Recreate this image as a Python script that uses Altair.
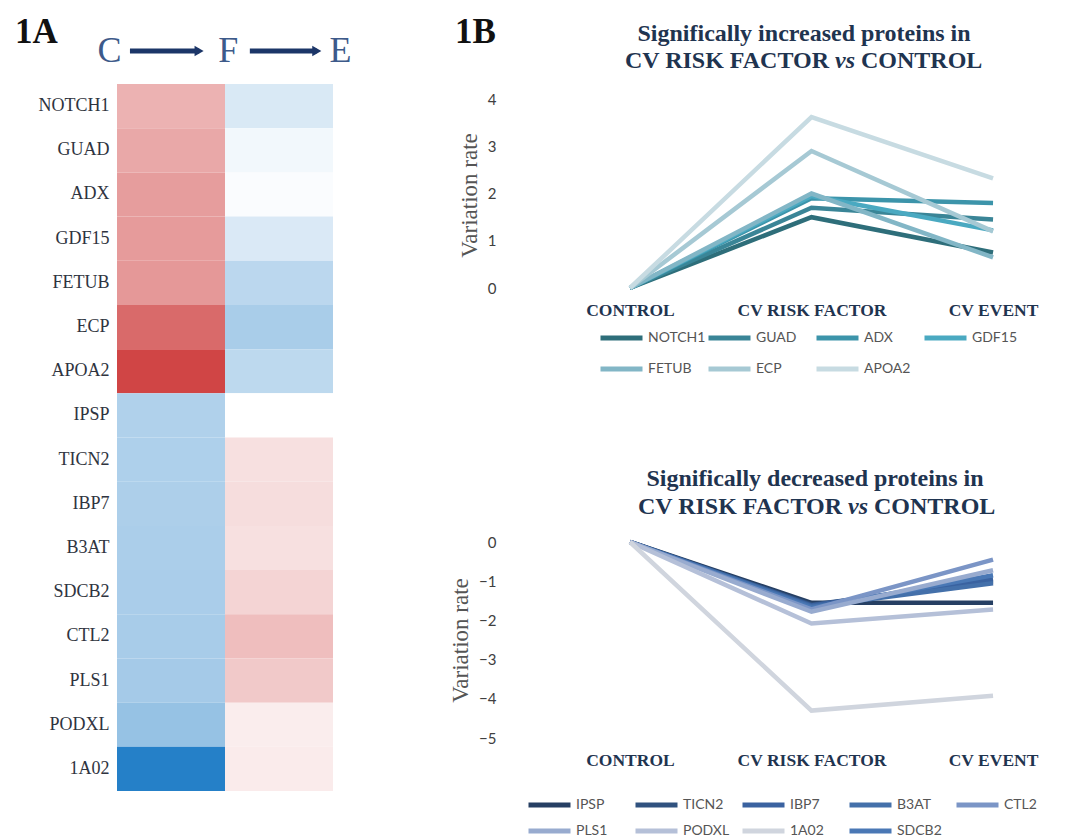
import altair as alt
import pandas as pd

# ---- data -------------------------------------------------------------
stages = ["CONTROL", "CV RISK FACTOR", "CV EVENT"]

up_proteins = ["NOTCH1", "GUAD", "ADX", "GDF15", "FETUB", "ECP", "APOA2"]
up_risk = [1.50, 1.70, 1.90, 1.95, 2.00, 2.90, 3.62]
up_event = [0.75, 1.45, 1.80, 1.22, 0.65, 1.20, 2.32]
up_colors = ["#2e6e7a", "#3a8597", "#3c94aa", "#4aa9c1", "#82b6c6", "#a6c9d4", "#c7dbe2"]

down_proteins = ["IPSP", "TICN2", "IBP7", "B3AT", "SDCB2", "CTL2", "PLS1", "PODXL", "1A02"]
down_risk = [-1.55, -1.60, -1.62, -1.65, -1.68, -1.72, -1.78, -2.08, -4.30]
down_event = [-1.55, -1.00, -0.95, -1.05, -0.85, -0.45, -0.72, -1.72, -3.92]
down_legend = ["IPSP", "TICN2", "IBP7", "B3AT", "CTL2", "PLS1", "PODXL", "1A02", "SDCB2"]
down_colors = ["#263f63", "#30527f", "#3a62a0", "#4470aa", "#7b95c6", "#98abcf", "#b5c0d8", "#d0d5de", "#4a78b5"]

# stage letters sit on the column boundaries, arrows run between them
heat_steps = ["C", "F", "E"]
letter_pos = [-0.07, 1.03, 2.07]
arrow_start = [0.12, 1.23]
arrow_end = [0.76, 1.85]

SERIF = "Liberation Serif"
SANS = "Lato"
NAVY = "#1f3450"


def long_frame(names, risk, event):
    rows = []
    for n, r, e in zip(names, risk, event):
        for s, v in zip(stages, [0.0, r, e]):
            rows.append({"protein": n, "stage": s, "value": v})
    return pd.DataFrame(rows)


# ---- 1A heatmap: change C->F and F->E --------------------------------
heat_order = up_proteins + down_proteins
heat_rows = []
for n, r, e in zip(up_proteins + down_proteins, up_risk + down_risk, up_event + down_event):
    heat_rows.append({"protein": n, "step": 0, "step_end": 1, "value": r})
    heat_rows.append({"protein": n, "step": 1, "step_end": 2, "value": round(e - r, 3)})
heat_df = pd.DataFrame(heat_rows)

xq = alt.Scale(domain=[0, 2], nice=False, zero=False)

cells = alt.Chart(heat_df).mark_rect().encode(
    x=alt.X("step:Q", scale=xq, axis=None),
    x2="step_end:Q",
    y=alt.Y(
        "protein:N",
        sort=heat_order,
        scale=alt.Scale(paddingInner=0, paddingOuter=0),
        axis=alt.Axis(
            title=None, ticks=False, domain=False, labelFont=SERIF,
            labelFontSize=18, labelColor="#2f3440", labelPadding=8,
        ),
    ),
    color=alt.Color(
        "value:Q",
        scale=alt.Scale(domain=[-4.3, 0, 3.62], range=["#2580c8", "#ffffff", "#d04545"], interpolate="rgb"),
        legend=None,
    ),
)

letters = alt.Chart(pd.DataFrame({"label": heat_steps, "pos": letter_pos})).mark_text(
    font=SERIF, fontSize=36, color="#3d5a8a", baseline="middle"
).encode(x=alt.X("pos:Q", scale=xq, axis=None), y=alt.value(-33), text="label:N")

arrow_df = pd.DataFrame({"start": arrow_start, "end": arrow_end})
shafts = alt.Chart(arrow_df).mark_rule(strokeWidth=5, color="#1c3668").encode(
    x=alt.X("start:Q", scale=xq, axis=None), x2="end:Q", y=alt.value(-33)
)
heads = alt.Chart(arrow_df).mark_point(
    shape="triangle-right", filled=True, size=110, color="#1c3668", opacity=1
).encode(x=alt.X("end:Q", scale=xq, axis=None), y=alt.value(-33))

label_1a = alt.Chart(pd.DataFrame({"t": ["1A"]})).mark_text(
    font=SERIF, fontSize=35, fontWeight="bold", color="#111111", align="left", baseline="alphabetic"
).encode(x=alt.value(-102), y=alt.value(-41), text="t:N")

heatmap = alt.layer(cells, letters, shafts, heads, label_1a).properties(width=216, height=707)


# ---- 1B line panels ---------------------------------------------------
def title_layers(line1, center, y1, y2, vs_center):
    t1 = alt.Chart(pd.DataFrame({"t": [line1]})).mark_text(
        font=SERIF, fontSize=24, fontWeight="bold", color=NAVY, align="center", baseline="middle"
    ).encode(x=alt.value(center), y=alt.value(y1), text="t:N")
    t2a = alt.Chart(pd.DataFrame({"t": ["CV RISK FACTOR"]})).mark_text(
        font=SERIF, fontSize=24, fontWeight="bold", color=NAVY, align="right", baseline="middle"
    ).encode(x=alt.value(vs_center - 16), y=alt.value(y2), text="t:N")
    t2b = alt.Chart(pd.DataFrame({"t": ["vs"]})).mark_text(
        font=SERIF, fontSize=24, fontWeight="bold", fontStyle="italic", color=NAVY,
        align="center", baseline="middle"
    ).encode(x=alt.value(vs_center), y=alt.value(y2), text="t:N")
    t2c = alt.Chart(pd.DataFrame({"t": ["CONTROL"]})).mark_text(
        font=SERIF, fontSize=24, fontWeight="bold", color=NAVY, align="left", baseline="middle"
    ).encode(x=alt.value(vs_center + 16), y=alt.value(y2), text="t:N")
    return [t1, t2a, t2b, t2c]


def line_panel(df, domain, ticks, legend_names, colors, legend_x, legend_y,
               col_pad, row_pad, columns, title_y):
    y_axis = dict(
        values=ticks, title="Variation rate", grid=False, ticks=False, domain=False,
        offset=100, labelFont=SANS, labelFontSize=15, labelColor="#404040",
        labelPadding=4, titleFont=SERIF, titleFontSize=23, titleFontWeight="normal",
        titleColor="#555555", titlePadding=6,
    )
    if title_y is not None:
        y_axis["titleY"] = title_y
    return alt.Chart(df).mark_line(strokeWidth=4.5).encode(
        x=alt.X(
            "stage:N", sort=stages,
            scale=alt.Scale(type="point", padding=0.165),
            axis=alt.Axis(
                title=None, labelAngle=0, ticks=False, domain=False, grid=False,
                labelFont=SERIF, labelFontWeight="bold", labelFontSize=17.5,
                labelColor=NAVY, labelPadding=13,
            ),
        ),
        y=alt.Y(
            "value:Q",
            scale=alt.Scale(domain=domain, nice=False, zero=False),
            axis=alt.Axis(**y_axis),
        ),
        color=alt.Color(
            "protein:N",
            sort=legend_names,
            scale=alt.Scale(domain=legend_names, range=colors),
            legend=alt.Legend(
                title=None, orient="none", direction="horizontal",
                legendX=legend_x, legendY=legend_y,
                columns=columns, symbolType="stroke", symbolSize=1764, symbolStrokeWidth=5,
                clipHeight=16, labelFont=SANS, labelFontSize=14, labelColor="#555555",
                labelOffset=3, columnPadding=col_pad, rowPadding=row_pad, gridAlign="all",
            ),
        ),
    )


up_df = long_frame(up_proteins, up_risk, up_event)
down_df = long_frame(down_proteins, down_risk, down_event)

up_lines = line_panel(up_df, [0, 4.32], [0, 1, 2, 3, 4], up_proteins, up_colors,
                      -2, 246, -19, 15, 4, 111)
label_1b = alt.Chart(pd.DataFrame({"t": ["1B"]})).mark_text(
    font=SERIF, fontSize=35, fontWeight="bold", color="#111111", align="left", baseline="alphabetic"
).encode(x=alt.value(-145), y=alt.value(-41), text="t:N")
top_panel = alt.layer(
    up_lines, *title_layers("Significally increased proteins in", 204, -50, -23, 245), label_1b
).properties(width=423, height=204)

down_lines = line_panel(down_df, [-5, 0], [-5, -4, -3, -2, -1, 0], down_legend, down_colors,
                        -74, 255, 10, 10, 5, None)
bottom_panel = alt.layer(
    down_lines, *title_layers("Significally decreased proteins in", 215, -63, -35, 258)
).properties(width=423, height=196)

right = alt.vconcat(top_panel, bottom_panel, spacing=254, bounds="flush").resolve_scale(
    color="independent"
).resolve_legend(color="independent")

chart = (
    alt.hconcat(heatmap, right, spacing=267, bounds="flush")
    .resolve_scale(color="independent")
    .resolve_legend(color="independent")
    .properties(padding={"left": 15, "top": 15, "right": 2, "bottom": 2}, background="white")
    .configure_view(stroke=None)
)

chart.save("out.html", embed_options={"renderer": "svg", "actions": False})
